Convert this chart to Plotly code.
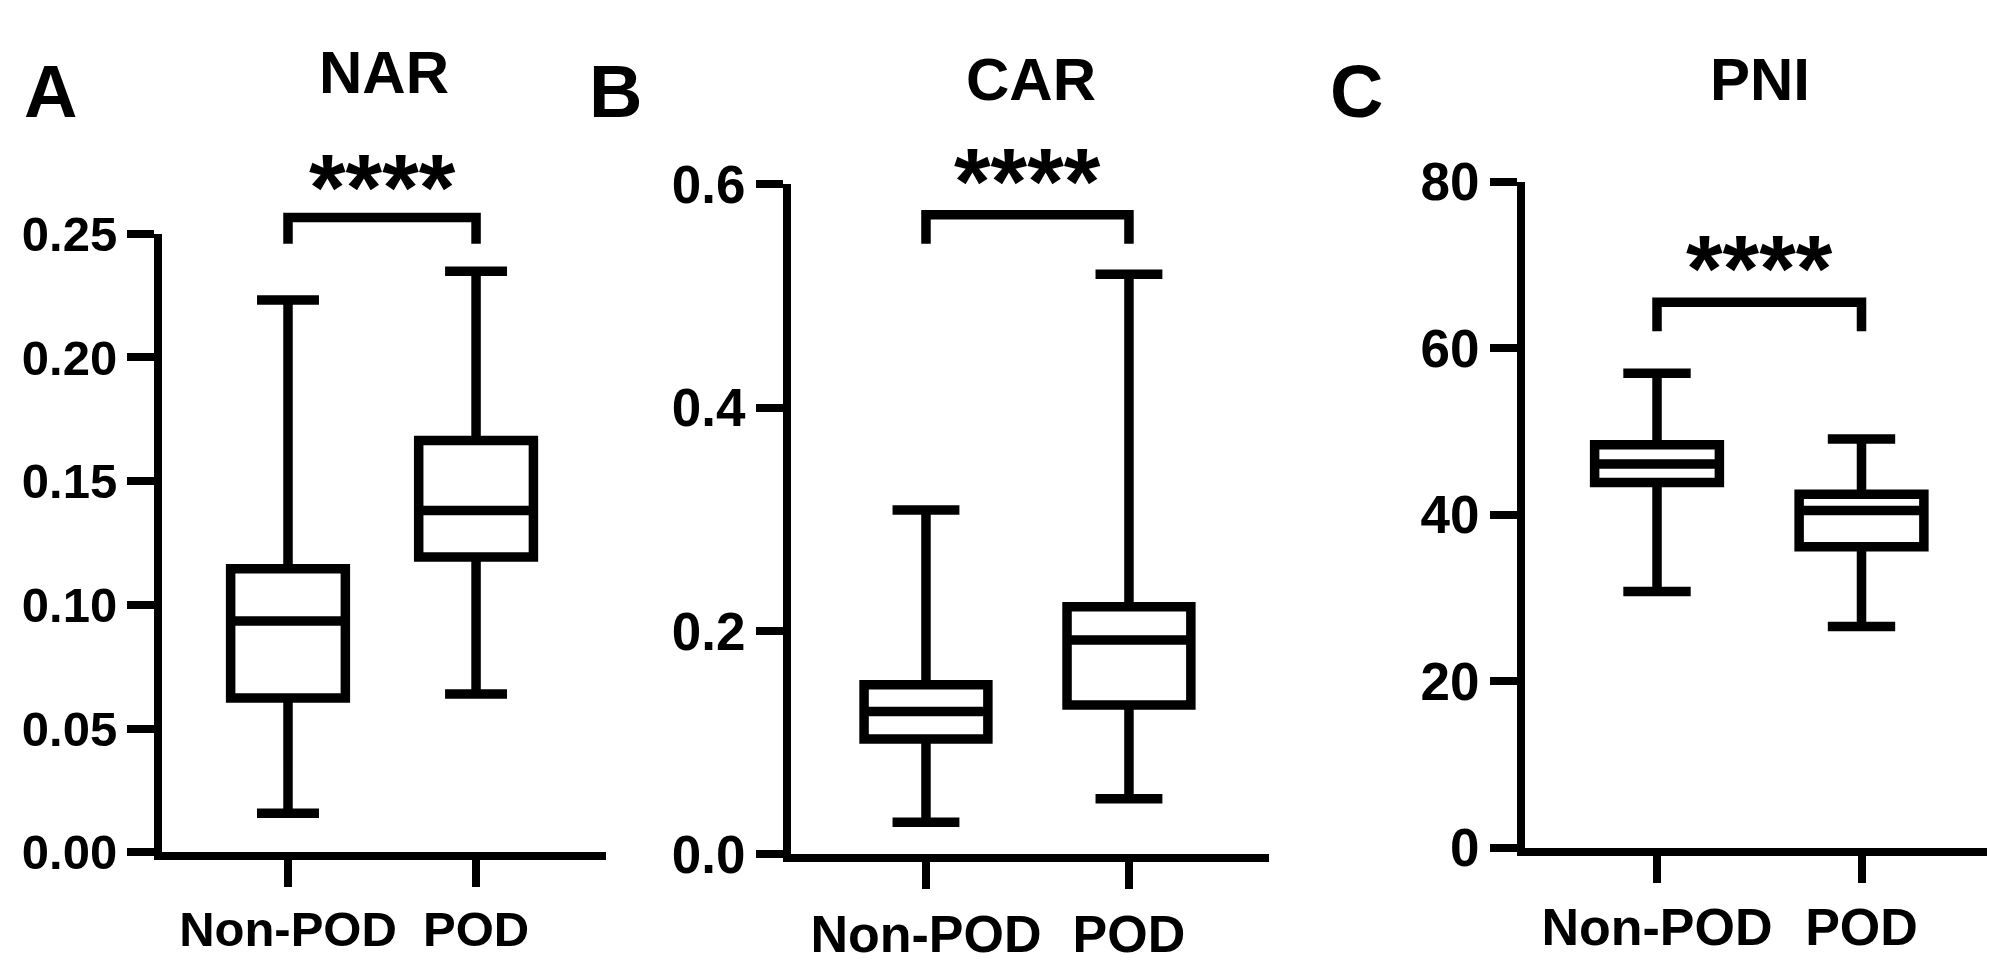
import plotly.graph_objects as go

categories = ["Non-POD", "POD"]

# NAR
nar_lower = [0.0158, 0.0640]
nar_q1 = [0.0624, 0.1194]
nar_median = [0.0935, 0.1382]
nar_q3 = [0.1146, 0.1664]
nar_upper = [0.2232, 0.2349]
nar_ticks = [0.00, 0.05, 0.10, 0.15, 0.20, 0.25]

# CAR
car_lower = [0.0287, 0.0496]
car_q1 = [0.1033, 0.1336]
car_median = [0.1278, 0.1920]
car_q3 = [0.1518, 0.2217]
car_upper = [0.3083, 0.5196]
car_ticks = [0.0, 0.2, 0.4, 0.6]

# PNI
pni_lower = [30.77, 26.57]
pni_q1 = [43.85, 36.15]
pni_median = [46.08, 40.49]
pni_q3 = [48.39, 42.45]
pni_upper = [56.99, 49.09]
pni_ticks = [0, 20, 40, 60, 80]

# significance brackets: (leg bottom, bar top) in data units
nar_bracket = [0.2460, 0.2566]
car_bracket = [0.5468, 0.5729]
pni_bracket = [62.03, 65.52]
sig_label = "****"

FONT = "Liberation Sans, Arial, sans-serif"
LW = 9.5
W, H = 1995, 972

panels = [
    dict(name="NAR", lower=nar_lower, q1=nar_q1, med=nar_median, q3=nar_q3, upper=nar_upper,
         ticks=nar_ticks, fmt=".2f", yrange=[0, 0.25], bracket=nar_bracket,
         xdom=[154 / W, 598 / W], ydom=[1 - 868 / H, 1 - 209.5 / H],
         xrange=[-0.670, 1.691], tick_size=49, cat_size=49, star_px=160,
         letter="A", letter_x=42 / W, title_x=376 / W, title_y=1 - 38 / H),
    dict(name="CAR", lower=car_lower, q1=car_q1, med=car_median, q3=car_q3, upper=car_upper,
         ticks=car_ticks, fmt=".1f", yrange=[0, 0.6], bracket=car_bracket,
         xdom=[783 / W, 1261 / W], ydom=[1 - 870 / H, 1 - 157 / H],
         xrange=[-0.665, 1.690], tick_size=53, cat_size=52, star_px=154,
         letter="B", letter_x=607 / W, title_x=1023 / W, title_y=1 - 45 / H),
    dict(name="PNI", lower=pni_lower, q1=pni_q1, med=pni_median, q3=pni_q3, upper=pni_upper,
         ticks=pni_ticks, fmt="d", yrange=[0, 80], bracket=pni_bracket,
         xdom=[1517 / W, 1985 / W], ydom=[1 - 863 / H, 1 - 154 / H],
         xrange=[-0.6455, 1.643], tick_size=53, cat_size=52, star_px=246,
         letter="C", letter_x=1348 / W, title_x=1752 / W, title_y=1 - 45 / H),
]

fig = go.Figure()
annotations = []
shapes = []

for i, p in enumerate(panels, start=1):
    xa = "x" if i == 1 else f"x{i}"
    ya = "y" if i == 1 else f"y{i}"

    fig.add_trace(go.Box(
        x=categories,
        lowerfence=p["lower"], q1=p["q1"], median=p["med"], q3=p["q3"], upperfence=p["upper"],
        width=0.61, whiskerwidth=0.54,
        line=dict(color="black", width=LW), fillcolor="white",
        boxpoints=False, hoverinfo="skip", showlegend=False,
        xaxis=xa, yaxis=ya,
    ))

    # bracket: data value -> paper fraction so it is not clipped by the axis range
    d0, d1 = p["ydom"]
    r0, r1 = p["yrange"]
    to_paper = lambda v: d0 + (v - r0) / (r1 - r0) * (d1 - d0)
    leg, top = (to_paper(v) for v in p["bracket"])
    shapes.append(dict(type="path", xref=xa, yref="paper",
                       path=f"M 0,{leg} L 0,{top} L 1,{top} L 1,{leg}",
                       line=dict(color="black", width=LW)))

    axis_common = dict(showline=True, linecolor="black", linewidth=8,
                       ticks="outside", ticklen=27, tickwidth=8, tickcolor="black",
                       showgrid=False, zeroline=False)
    fig.update_layout(**{
        ("xaxis" if i == 1 else f"xaxis{i}"): dict(
            domain=p["xdom"], anchor=ya, type="category", range=p["xrange"],
            tickfont=dict(family=FONT, size=p["cat_size"], color="black", weight="bold"),
            **axis_common),
        ("yaxis" if i == 1 else f"yaxis{i}"): dict(
            domain=p["ydom"], anchor=xa, range=p["yrange"],
            tickvals=p["ticks"], tickformat=p["fmt"],
            tickfont=dict(family=FONT, size=p["tick_size"], color="black", weight="bold"),
            **axis_common),
    })

    annotations.append(dict(x=0.5, y=1 - p["star_px"] / H, xref=xa, yref="paper", text=sig_label,
                            showarrow=False, yanchor="middle",
                            font=dict(family=FONT, size=94, color="black", weight="bold")))
    annotations.append(dict(x=p["title_x"], y=p["title_y"], xref="paper", yref="paper",
                            text=p["name"], showarrow=False, xanchor="center", yanchor="middle",
                            font=dict(family=FONT, size=60, color="black", weight="bold")))
    annotations.append(dict(x=p["letter_x"], y=1 - 58 / H, xref="paper", yref="paper",
                            text=p["letter"], showarrow=False, xanchor="center", yanchor="middle",
                            font=dict(family=FONT, size=74, color="black", weight="bold")))

fig.update_layout(
    width=W, height=H,
    margin=dict(l=0, r=0, t=0, b=0),
    paper_bgcolor="white", plot_bgcolor="white",
    annotations=annotations, shapes=shapes,
)

fig.write_html("out.html")
